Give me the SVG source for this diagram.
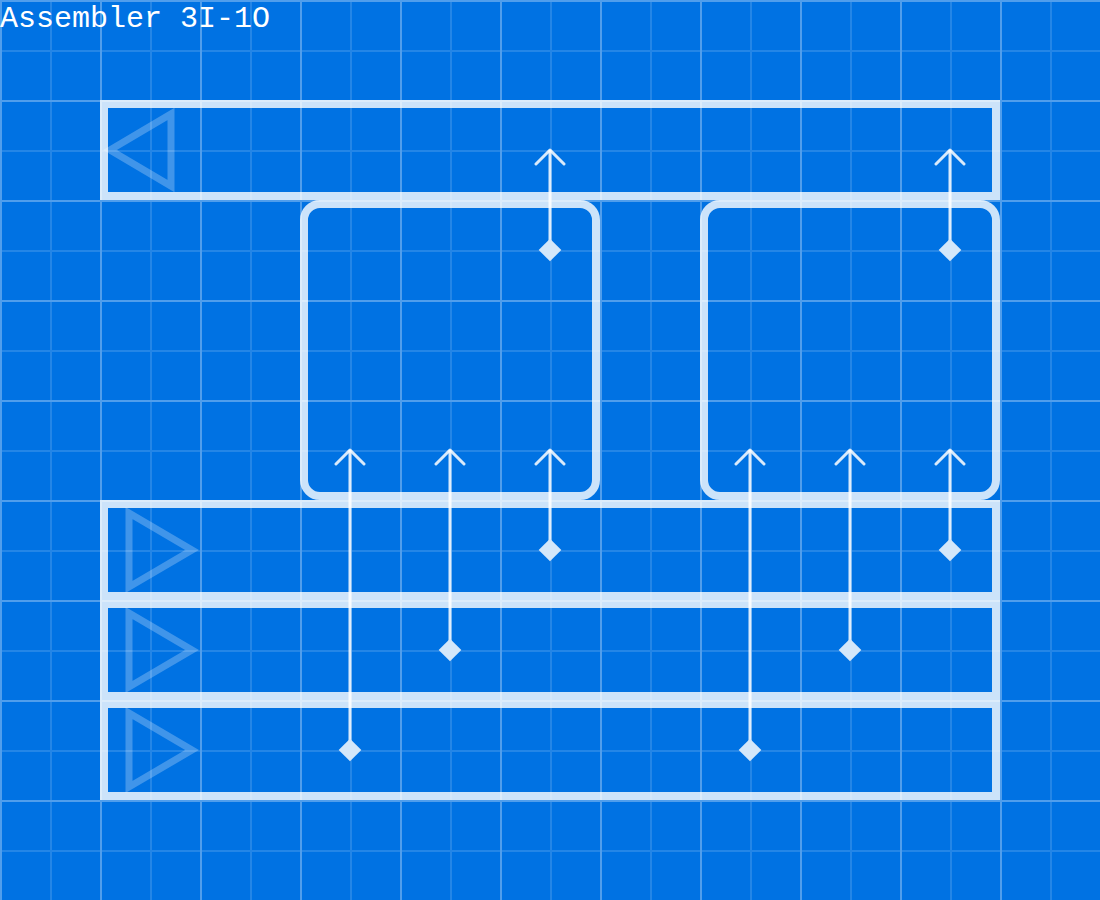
<svg xmlns="http://www.w3.org/2000/svg" width="1100" height="900" viewBox="0 0 1100 900">
  <defs>
    <pattern id="minor" width="50" height="50" patternUnits="userSpaceOnUse">
      <path d="M1 0V50M0 1H50" fill="none" stroke="#ffffff" stroke-opacity="0.14" stroke-width="2"/>
    </pattern>
    <pattern id="major" width="100" height="100" patternUnits="userSpaceOnUse">
      <path d="M1 0V100M0 1H100" fill="none" stroke="#ffffff" stroke-opacity="0.2" stroke-width="2"/>
    </pattern>
    <marker id="head" viewBox="-16 -16 32 32" markerWidth="32" markerHeight="32" refX="0" refY="0" markerUnits="userSpaceOnUse" orient="auto">
      <path d="M-14 -14L0 0L-14 14" fill="none" stroke="#ffffff" stroke-opacity="0.85" stroke-width="3" stroke-linecap="round" stroke-linejoin="round"/>
    </marker>
  </defs>
  <style>
    .title { font-family: "Liberation Mono", "DejaVu Sans Mono", monospace; font-size: 30px; fill: #ffffff; }
    .belt { fill: none; stroke: #ffffff; stroke-opacity: 0.8; stroke-width: 8; }
    .machine { fill: none; stroke: #ffffff; stroke-opacity: 0.8; stroke-width: 8; }
    .dir { fill: none; stroke: #ffffff; stroke-opacity: 0.25; stroke-width: 7; }
    .link { stroke: #ffffff; stroke-opacity: 0.85; stroke-width: 3; fill: none; }
    .dot { fill: #d3e7fa; }
  </style>
  <rect x="0" y="0" width="1100" height="900" fill="#0072e3"/>
  <rect x="0" y="0" width="1100" height="900" fill="url(#minor)"/>
  <rect x="0" y="0" width="1100" height="900" fill="url(#major)"/>

  <text class="title" x="0" y="27">Assembler 3I-1O</text>

  <g id="output-belt">
    <rect class="belt" x="104" y="104" width="892" height="92"/>
    <polygon class="dir" points="110,150 171,114 171,186"/>
  </g>
  <g id="assembler-1">
    <rect class="machine" x="304" y="204" width="292" height="292" rx="16" ry="16"/>
  </g>
  <g id="assembler-2">
    <rect class="machine" x="704" y="204" width="292" height="292" rx="16" ry="16"/>
  </g>
  <g id="input-belt-1">
    <rect class="belt" x="104" y="504" width="892" height="92"/>
    <polygon class="dir" points="129,513 192,550 129,587"/>
  </g>
  <g id="input-belt-2">
    <rect class="belt" x="104" y="604" width="892" height="92"/>
    <polygon class="dir" points="129,613 192,650 129,687"/>
  </g>
  <g id="input-belt-3">
    <rect class="belt" x="104" y="704" width="892" height="92"/>
    <polygon class="dir" points="129,713 192,750 129,787"/>
  </g>

  <g id="connectors">
    <line class="link" x1="550" y1="250" x2="550" y2="150" marker-end="url(#head)"/>
    <rect class="dot" x="542" y="242" width="16" height="16" transform="rotate(45 550 250)"/>
    <line class="link" x1="950" y1="250" x2="950" y2="150" marker-end="url(#head)"/>
    <rect class="dot" x="942" y="242" width="16" height="16" transform="rotate(45 950 250)"/>

    <line class="link" x1="350" y1="750" x2="350" y2="450" marker-end="url(#head)"/>
    <rect class="dot" x="342" y="742" width="16" height="16" transform="rotate(45 350 750)"/>
    <line class="link" x1="450" y1="650" x2="450" y2="450" marker-end="url(#head)"/>
    <rect class="dot" x="442" y="642" width="16" height="16" transform="rotate(45 450 650)"/>
    <line class="link" x1="550" y1="550" x2="550" y2="450" marker-end="url(#head)"/>
    <rect class="dot" x="542" y="542" width="16" height="16" transform="rotate(45 550 550)"/>

    <line class="link" x1="750" y1="750" x2="750" y2="450" marker-end="url(#head)"/>
    <rect class="dot" x="742" y="742" width="16" height="16" transform="rotate(45 750 750)"/>
    <line class="link" x1="850" y1="650" x2="850" y2="450" marker-end="url(#head)"/>
    <rect class="dot" x="842" y="642" width="16" height="16" transform="rotate(45 850 650)"/>
    <line class="link" x1="950" y1="550" x2="950" y2="450" marker-end="url(#head)"/>
    <rect class="dot" x="942" y="542" width="16" height="16" transform="rotate(45 950 550)"/>
  </g>
</svg>
